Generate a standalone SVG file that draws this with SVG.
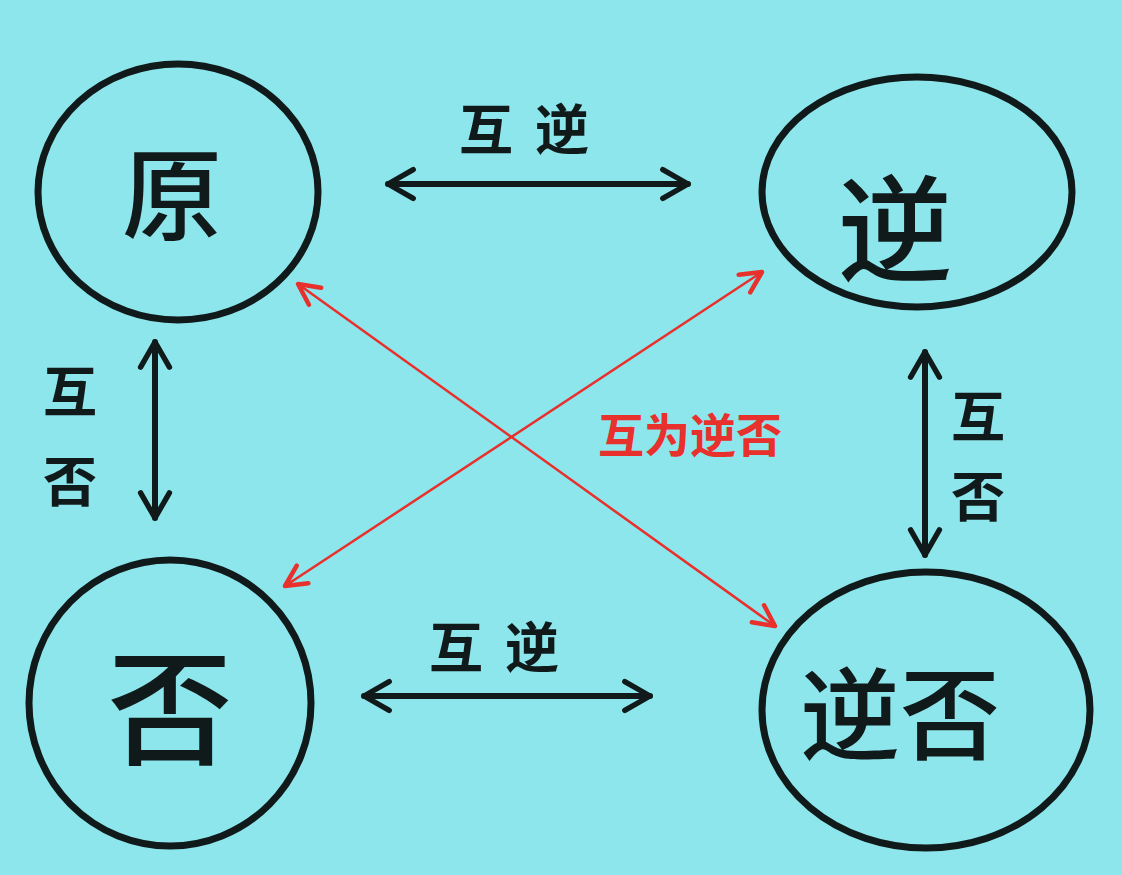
<svg xmlns="http://www.w3.org/2000/svg" width="1122" height="875" viewBox="0 0 1122 875">
<style>
.node{fill:none;stroke:#111a1a;stroke-width:7}
.big{font-family:"Noto Sans CJK SC","Noto Sans",sans-serif;fill:#111a1a;text-anchor:middle;font-weight:500}
.lbl{font-family:"Noto Sans CJK SC","Noto Sans",sans-serif;fill:#111a1a;text-anchor:middle;font-size:54px;font-weight:bold}
.blk{stroke:#111a1a;stroke-width:6;fill:none;stroke-linecap:round}
.red{stroke:#e8302c;stroke-width:2.5;fill:none;stroke-linecap:round}
</style>
<defs>
<marker id="ab" viewBox="0 0 20 20" refX="18" refY="10" markerWidth="6" markerHeight="6" orient="auto-start-reverse" markerUnits="strokeWidth">
<path d="M4 2 L18 10 L4 18" fill="none" stroke="#111a1a" stroke-width="3" stroke-linecap="round" stroke-linejoin="round"/>
</marker>
<marker id="ar" viewBox="0 0 20 20" refX="18" refY="10" markerWidth="12" markerHeight="12" orient="auto-start-reverse" markerUnits="strokeWidth">
<path d="M4 3 L18 10 L4 17" fill="none" stroke="#e8302c" stroke-width="3" stroke-linecap="round" stroke-linejoin="round"/>
</marker>
</defs>
<rect width="1122" height="875" fill="#8ce6ec"/>
<g id="connectors">
<line class="blk" x1="388" y1="184" x2="688" y2="184" marker-start="url(#ab)" marker-end="url(#ab)"/>
<line class="blk" x1="364" y1="696" x2="650" y2="696" marker-start="url(#ab)" marker-end="url(#ab)"/>
<line class="blk" x1="155" y1="342" x2="155" y2="518" marker-start="url(#ab)" marker-end="url(#ab)"/>
<line class="blk" x1="925" y1="352" x2="925" y2="555" marker-start="url(#ab)" marker-end="url(#ab)"/>
<line class="red" x1="298" y1="284" x2="775" y2="626" marker-start="url(#ar)" marker-end="url(#ar)"/>
<line class="red" x1="762" y1="272" x2="285" y2="586" marker-start="url(#ar)" marker-end="url(#ar)"/>
<text class="lbl" x="535" y="150" letter-spacing="22">互逆</text>
<text class="lbl" x="505" y="668" letter-spacing="22">互逆</text>
<text class="lbl" x="70" y="412">互</text>
<text class="lbl" x="70" y="502">否</text>
<text class="lbl" x="978" y="437">互</text>
<text class="lbl" x="978" y="517">否</text>
<text x="690" y="452" font-family="'Noto Sans CJK SC','Noto Sans',sans-serif" font-size="46" font-weight="bold" fill="#e8302c" text-anchor="middle">互为逆否</text>
</g>
<g id="node-yuan">
<ellipse class="node" cx="178" cy="192" rx="140" ry="128"/>
<text class="big" x="172" y="232" font-size="100">原</text>
</g>
<g id="node-ni">
<ellipse class="node" cx="917" cy="192" rx="155" ry="115"/>
<text class="big" x="895" y="272" font-size="115">逆</text>
</g>
<g id="node-fou">
<ellipse class="node" cx="170" cy="703" rx="141" ry="143"/>
<text class="big" x="170" y="755" font-size="125">否</text>
</g>
<g id="node-nifou">
<ellipse class="node" cx="926" cy="710" rx="164" ry="138"/>
<text class="big" x="900" y="752" font-size="100">逆否</text>
</g>
</svg>
